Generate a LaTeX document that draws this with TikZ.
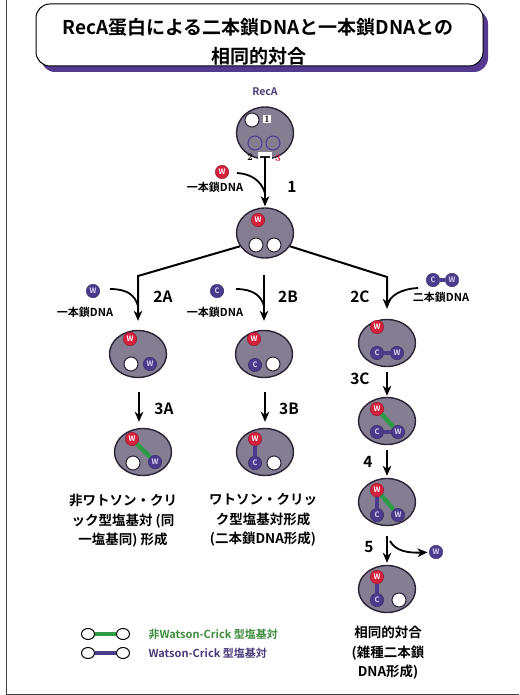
\documentclass[tikz,border=0pt]{standalone}
\usepackage{fontspec}
\newfontfamily\jp{Noto Sans CJK JP}[BoldFont={Noto Sans CJK JP Bold}]
\usetikzlibrary{shapes.geometric,arrows.meta,shadows}

\definecolor{cellfill}{HTML}{857E92}
\definecolor{cellline}{HTML}{2B2235}
\definecolor{redc}{HTML}{D4213D}
\definecolor{purc}{HTML}{4B3B8C}
\definecolor{lavc}{HTML}{DCD4F2}
\definecolor{greenc}{HTML}{2E9B48}
\definecolor{shadowc}{HTML}{55388F}
\definecolor{recac}{HTML}{4E3F7A}
\definecolor{legg}{HTML}{3D8B3D}
\definecolor{legp}{HTML}{4A3A7A}

\tikzset{
  cell/.style={ellipse, draw=cellline, line width=1.4pt, fill=cellfill,
    minimum width=57pt, minimum height=47pt, inner sep=0pt},
  basebead/.style={circle, minimum size=13.5pt, inner sep=0pt, line width=0.4pt,
    font=\jp\bfseries\fontsize{7.5}{7.5}\selectfont},
  redb/.style={basebead, fill=redc, draw=redc!70!black, text=white},
  purb/.style={basebead, fill=purc, draw=purc!70!black, text=lavc},
  hole/.style={circle, fill=white, draw=cellline, line width=1pt,
    minimum size=14pt, inner sep=0pt},
  ring/.style={circle, draw=purc, line width=1pt, minimum size=14pt, inner sep=0pt},
  arr/.style={line width=2pt, -{Stealth[length=10pt,width=8.5pt,inset=3pt]}},
  feed/.style={line width=1.8pt},
  steplbl/.style={font=\jp\bfseries\fontsize{15.5}{15.5}\selectfont},
  dnalbl/.style={font=\jp\bfseries\fontsize{11}{11}\selectfont},
  captext/.style={font=\jp\bfseries\fontsize{13.5}{19.5}\selectfont, align=center},
  wcbar/.style={line width=4.5pt, draw=purc},
  nwcbar/.style={line width=4.5pt, draw=greenc},
  legbead/.style={ellipse, draw=black, fill=white, line width=1pt,
    minimum width=13pt, minimum height=11pt, inner sep=0pt},
  titlebox/.style={draw=black, fill=white, line width=1pt, rounded corners=14pt,
    minimum width=447pt, minimum height=62pt,
    drop shadow={shadow xshift=5pt, shadow yshift=-6pt, fill=shadowc, opacity=1}},
}

\begin{document}
\begin{tikzpicture}[x=1pt,y=-1pt]
\useasboundingbox (0,0) rectangle (519,695);

% page frame
\draw[line width=0.8pt, black!75] (6,0) -- (6,694) -- (519,694);

% title
\node[titlebox] (title) at (259.5,35) {};
\node[font=\jp\bfseries\fontsize{19}{19}\selectfont] (tl1) at (258,27)
  {RecA蛋白による二本鎖DNAと一本鎖DNAとの};
\node[font=\jp\bfseries\fontsize{19}{19}\selectfont] (tl2) at (259,56) {相同的対合};

% RecA protein
\node[font=\jp\bfseries\fontsize{10.5}{10.5}\selectfont, text=recac] (reca) at (265,92) {RecA};
\node[cell, minimum height=52pt] (c1) at (265,133) {};
\node[hole] (h1) at (252,120) {};
\node[fill=white, inner sep=0.8pt, font=\bfseries\fontsize{10}{10}\selectfont] (n1) at (267,119) {1};
\node[ring] (r2) at (255,143) {};
\node[ring] (r3) at (273,143) {};
\fill[white] (258,152) rectangle (272,161);
\draw[line width=1.2pt, cellline] (260,157) -- (270,157);
\node[font=\bfseries\fontsize{10}{10}\selectfont] (n2) at (250,157) {2};
\node[font=\bfseries\fontsize{10}{10}\selectfont, text=redc] (n3) at (278,158) {3};

% step 1
\node[cell, minimum height=50pt] (c2) at (265,233) {};
\node[redb] (c2w) at (258,220) {W};
\node[hole] (c2h1) at (256,245) {};
\node[hole] (c2h2) at (274,245) {};

\node[redb] (w1) at (222,172) {W};
\node[dnalbl] (d1) at (215,187) {一本鎖DNA};
\coordinate (f1) at (237,173);
\coordinate (m1) at (265,193);
\coordinate (t1) at (265,157);
\draw[arr, shorten >=1pt] (t1) -- (c2.north);
\draw[feed] (f1) .. controls (252,174) and (261,181) .. (m1);
\node[steplbl] (s1) at (292,187) {1};

% branch 2A
\node[cell] (c2a) at (138,354) {};
\node[redb] (c2aw) at (130,339) {W};
\node[hole] (c2ah) at (131,364) {};
\node[purb] (c2ap) at (150,364) {W};
\coordinate (kA) at (138,276);
\draw[arr, shorten >=9pt] (c2.208) -- (kA) -- (c2a.north);
\node[purb] (wA) at (93,291) {W};
\node[dnalbl] (dA) at (85,312) {一本鎖DNA};
\coordinate (fA) at (110,289);
\coordinate (mA) at (138,306);
\draw[feed] (fA) .. controls (127,289) and (135,295) .. (mA);
\node[steplbl] (s2A) at (163,297) {2A};

% branch 2B
\node[cell] (c2b) at (264,354) {};
\node[redb] (c2bw) at (254,339) {W};
\node[purb] (c2bc) at (255,365) {C};
\node[hole] (c2bh) at (273,364) {};
\coordinate (kB) at (264,275);
\draw[arr, shorten >=9pt] (kB) -- (c2b.north);
\node[purb] (cB) at (217,291) {C};
\node[dnalbl] (dB) at (215,312) {一本鎖DNA};
\coordinate (fB) at (236,289);
\coordinate (mB) at (264,306);
\draw[feed] (fB) .. controls (252,289) and (261,295) .. (mB);
\node[steplbl] (s2B) at (288,297) {2B};

% branch 2C
\node[cell] (c2c) at (387,343) {};
\node[redb] (c2cw) at (377,327) {W};
\node[purb] (c2cc) at (377,353) {C};
\node[purb] (c2cp) at (397,353) {W};
\draw[wcbar] (c2cc) -- (c2cp);
\coordinate (kC) at (387,277);
\draw[arr, shorten >=10pt] (c2.332) -- (kC) -- (c2c.north);
\node[purb] (pC) at (433,280) {C};
\node[purb] (pW) at (452,280) {W};
\draw[wcbar] (pC) -- (pW);
\node[dnalbl] (dC) at (441,297) {二本鎖DNA};
\coordinate (fC) at (418,288);
\coordinate (mC) at (387,305);
\draw[feed] (fC) .. controls (400,289) and (390,296) .. (mC);
\node[steplbl] (s2C) at (360,297) {2C};

% 3A: non Watson-Crick pairing
\node[cell] (c3a) at (143,452) {};
\node[redb] (c3aw) at (132,439) {W};
\node[purb] (c3ap) at (155,462) {W};
\node[hole] (c3ah) at (133,463) {};
\draw[nwcbar] (c3aw) -- (c3ap);
\coordinate (k3A) at (139,392);
\draw[arr, shorten >=6pt] (k3A) -- (c3a.north -| k3A);
\node[steplbl] (s3A) at (164,409) {3A};
\node[captext] (t3A) at (123,521) {非ワトソン・クリ\\ック型塩基対 (同\\一塩基同) 形成};

% 3B: Watson-Crick pairing
\node[cell] (c3b) at (265,452) {};
\node[redb] (c3bw) at (255,439) {W};
\node[purb] (c3bc) at (255,463) {C};
\node[hole] (c3bh) at (274,463) {};
\draw[wcbar] (c3bw) -- (c3bc);
\coordinate (k3B) at (265,392);
\draw[arr, shorten >=6pt] (k3B) -- (c3b.north);
\node[steplbl] (s3B) at (289,409) {3B};
\node[captext] (t3B) at (263,520) {ワトソン・クリッ\\ク型塩基対形成\\(二本鎖DNA形成)};

% 3C
\node[cell] (c3c) at (387,421) {};
\node[redb] (c3cw) at (377,409) {W};
\node[purb] (c3cc) at (377,432) {C};
\node[purb] (c3cp) at (398,432) {W};
\draw[nwcbar] (c3cw) -- (c3cp);
\draw[wcbar] (c3cc) -- (c3cp);
\coordinate (k3C) at (387,372);
\draw[arr, shorten >=1pt] (k3C) -- (c3c.north);
\node[steplbl] (s3C) at (360,379) {3C};

% step 4
\node[cell] (c4) at (387,502) {};
\node[redb] (c4w) at (377,490) {W};
\node[purb] (c4c) at (377,515) {C};
\node[purb] (c4p) at (398,515) {W};
\draw[wcbar] (c4w) -- (c4c);
\draw[nwcbar] (c4w) -- (c4p);
\draw[arr, shorten <=5pt, shorten >=2pt] (c3c.south) -- (c4.north);
\node[steplbl] (s4) at (368,462) {4};

% step 5
\node[cell] (c5) at (387,589) {};
\node[redb] (c5w) at (377,577) {W};
\node[purb] (c5c) at (377,600) {C};
\node[hole] (c5h) at (399,600) {};
\draw[wcbar] (c5w) -- (c5c);
\draw[arr, shorten <=10pt, shorten >=2pt] (c4.south) -- (c5.north);
\node[purb] (w5) at (436,552) {W};
\coordinate (s5) at (390,541);
\draw[arr, line width=1.8pt, shorten >=1.5pt] (s5) .. controls (396,552) and (410,553) .. (w5);
\node[steplbl] (s5l) at (369,547) {5};
\node[captext] (t5) at (388,653) {相同的対合\\(雑種二本鎖\\DNA形成)};

% legend
\node[legbead] (l1a) at (88,634) {};
\node[legbead] (l1b) at (123,634) {};
\draw[nwcbar] (l1a) -- (l1b);
\node[legbead] (l2a) at (88,653) {};
\node[legbead] (l2b) at (123,653) {};
\draw[wcbar] (l2a) -- (l2b);
\node[anchor=west, font=\jp\bfseries\fontsize{11}{11}\selectfont, text=legg] (lt1) at (145,634) {非Watson-Crick 型塩基対};
\node[anchor=west, font=\jp\bfseries\fontsize{11}{11}\selectfont, text=legp] (lt2) at (145,653) {Watson-Crick 型塩基対};
\end{tikzpicture}
\end{document}
